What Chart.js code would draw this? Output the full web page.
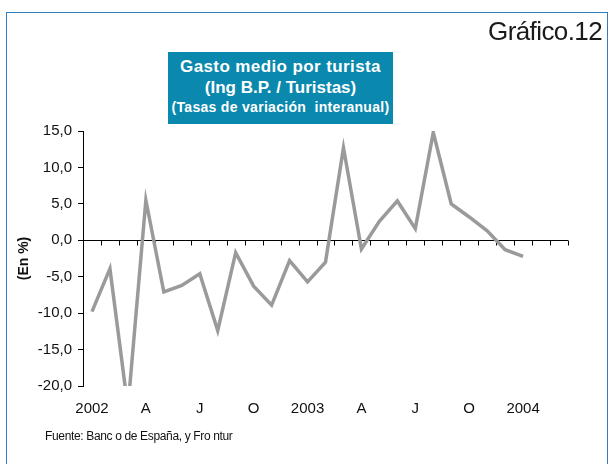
<!DOCTYPE html>
<html>
<head>
<meta charset="utf-8">
<script src="https://cdn.jsdelivr.net/npm/chart.js@4/dist/chart.umd.min.js"></script>
<style>
  html, body { margin:0; padding:0; background:#fff; width:611px; height:464px; overflow:hidden; }
  #frame { position:absolute; left:6px; top:12px; width:602px; height:470px; border:1.5px solid #2f7fbf; box-sizing:border-box; }
  #wrap { position:absolute; left:0; top:0; width:611px; height:464px; }
  #num { position:absolute; right:9px; top:18px; font-family:"Liberation Sans", Arial, sans-serif; font-size:26px; line-height:26px; letter-spacing:-0.6px; color:#1a1a1a; }
  #tbox { position:absolute; left:168px; top:52px; width:225px; height:72px; background:#0a88ad; color:#fff; font-family:"Liberation Sans", Arial, sans-serif; font-weight:bold; }
  #tbox div { position:absolute; left:0; width:225px; text-align:center; white-space:pre; }
  #t1 { top:5px; font-size:17px; line-height:20px; letter-spacing:0.4px; }
  #t2 { top:26px; font-size:17px; line-height:20px; }
  #t3 { top:46px; font-size:14px; line-height:18px; letter-spacing:0.3px; }
  #foot { position:absolute; left:45px; top:429px; font-family:"Liberation Sans", Arial, sans-serif; font-size:12px; line-height:14px; letter-spacing:-0.35px; color:#111; white-space:pre; }
</style>
</head>
<body>
<div id="frame"></div>
<div id="wrap"><canvas id="c" width="611" height="464"></canvas></div>
<div id="num">Gráfico.12</div>
<div id="tbox">
  <div id="t1">Gasto medio por turista</div>
  <div id="t2">(Ing B.P. / Turistas)</div>
  <div id="t3">(Tasas de variación  interanual)</div>
</div>
<div id="foot">Fuente: Banc o de España, y Fro ntur</div>
<script>
// Monthly categories, Jan 2002 - Mar 2004
const categories = [
  '2002-01','2002-02','2002-03','2002-04','2002-05','2002-06','2002-07','2002-08','2002-09','2002-10','2002-11','2002-12',
  '2003-01','2003-02','2003-03','2003-04','2003-05','2003-06','2003-07','2003-08','2003-09','2003-10','2003-11','2003-12',
  '2004-01','2004-02','2004-03'
];
const tickLabels = [
  '2002','','','A','','','J','','','O','','',
  '2003','','','A','','','J','','','O','','',
  '2004','',''
];
// Year-on-year change (%) of average spending per tourist
const gastoMedio = [
  -9.8, -3.9, -23.0, 5.5, -7.1, -6.2, -4.6, -12.4, -1.7, -6.3, -8.9, -2.8,
  -5.7, -3.0, 12.7, -1.2, 2.6, 5.4, 1.6, 14.8, 5.0, 3.2, 1.3, -1.3,
  -2.2, null, null
];
const yTicks = { min: -20, max: 15, step: 5 };

const FONT = '"Liberation Sans", Arial, sans-serif';

const zeroAxis = {
  id: 'zeroAxis',
  beforeDatasetsDraw(chart) {
    const { ctx, chartArea: a, scales: { x, y } } = chart;
    const y0 = Math.round(y.getPixelForValue(0)) + 0.5;
    ctx.save();
    ctx.strokeStyle = '#000';
    ctx.lineWidth = 1;
    ctx.beginPath();
    ctx.moveTo(a.left, y0);
    ctx.lineTo(a.right, y0);
    const n = categories.length;
    for (let i = 0; i <= n; i++) {
      const px = Math.round(x.getPixelForValue(i - 0.5)) + 0.5;
      ctx.moveTo(px, y0);
      ctx.lineTo(px, y0 + 5);
    }
    ctx.stroke();
    ctx.restore();
  }
};

new Chart(document.getElementById('c'), {
  type: 'line',
  data: {
    labels: categories,
    datasets: [{
      data: gastoMedio,
      borderColor: '#9a9a9a',
      borderWidth: 3.5,
      pointRadius: 0,
      tension: 0,
      fill: false,
      clip: 0,
      spanGaps: false
    }]
  },
  options: {
    responsive: false,
    animation: false,
    events: [],
    layout: { padding: { left: 0, top: 131, right: 43, bottom: 28 } },
    plugins: { legend: { display: false }, tooltip: { enabled: false }, title: { display: false } },
    scales: {
      x: {
        type: 'category',
        offset: true,
        grid: { display: false, drawTicks: false },
        border: { display: false },
        ticks: {
          autoSkip: false, maxRotation: 0, minRotation: 0, padding: 14,
          color: '#111', font: { family: FONT, size: 15 },
          callback: (v, i) => tickLabels[i]
        },
        afterFit: s => { s.height = 50; }
      },
      y: {
        min: yTicks.min, max: yTicks.max,
        grid: { drawOnChartArea: false, drawTicks: true, tickLength: 5, color: '#000' },
        border: { display: true, color: '#000', width: 1 },
        ticks: {
          stepSize: yTicks.step, padding: 6, color: '#111',
          font: { family: FONT, size: 15 },
          callback: v => v.toFixed(1).replace('.', ',')
        },
        title: {
          display: true, text: '(En %)', color: '#111',
          font: { family: FONT, size: 14, weight: 'bold' },
          padding: { top: 15.6, bottom: 0 }
        },
        afterFit: s => { s.width = 83; }
      }
    }
  },
  plugins: [zeroAxis]
});
</script>
</body>
</html>
